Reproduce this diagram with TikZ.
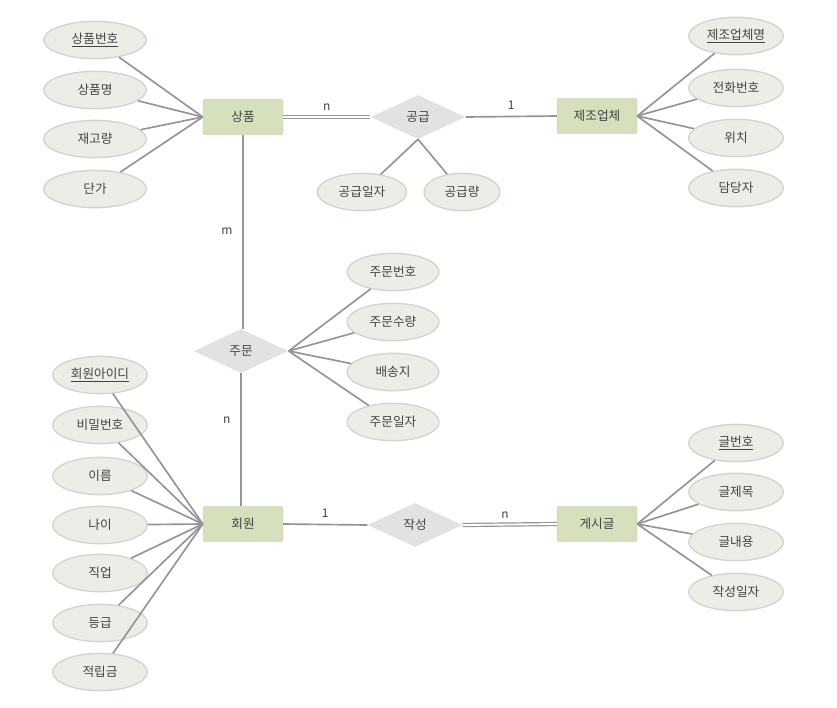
\documentclass[tikz,border=0pt]{standalone}
\usepackage{fontspec}
\setmainfont{Noto Sans CJK KR}
\usetikzlibrary{shapes.geometric}
\definecolor{attrfill}{HTML}{ECEDE6}
\definecolor{attrline}{HTML}{D3D5CC}
\definecolor{entfill}{HTML}{D6E0BC}
\definecolor{relfill}{HTML}{E2E2E2}
\definecolor{link}{HTML}{959595}
\definecolor{txt}{HTML}{444444}
\tikzset{
  lbl/.style={text=txt, font=\fontsize{9.5}{11}\selectfont},
  attr/.style={lbl, ellipse, fill=attrfill, draw=attrline, line width=1pt,
    minimum width=#1, minimum height=28pt, inner sep=0pt},
  attr/.default=71pt,
  entity/.style={lbl, rectangle, fill=entfill, draw=entfill!92!black, line width=0.3pt,
    rounded corners=1pt, minimum width=60pt, minimum height=26pt, inner sep=0pt},
  rel/.style={lbl, diamond, fill=relfill, draw=none, minimum width=71pt,
    minimum height=33pt, inner sep=0pt},
  conn/.style={draw=link, line width=1.25pt},
  dconn/.style={draw=link, line width=0.9pt, double=white, double distance=1.4pt},
  card/.style={lbl, font=\fontsize{9}{10}\selectfont},
}
\begin{document}
\begin{tikzpicture}[x=0.75pt, y=-0.75pt]
  \useasboundingbox[fill=white] (0,0) rectangle (837,707);

  % entities
  \node[entity] (sp) at (243,117) {상품};
  \node[entity] (mf) at (597,116) {제조업체};
  \node[entity] (mb) at (243,524) {회원};
  \node[entity] (bd) at (597,524) {게시글};

  % relationships
  \node[rel] (sup) at (418,117) {공급};
  \node[rel] (ord) at (241,351) {주문};
  \node[rel] (wr)  at (415,525) {작성};

  % attributes of 상품
  \node[attr=77pt] (sp1) at (95,40)  {\underline{상품번호}};
  \node[attr=77pt] (sp2) at (95,90)  {상품명};
  \node[attr=77pt] (sp3) at (95,139) {재고량};
  \node[attr=77pt] (sp4) at (95,189) {단가};
  \foreach \a in {sp1,sp2,sp3,sp4} \draw[conn] (\a) -- (sp.west);

  % attributes of 제조업체
  \node[attr] (mf1) at (736,36)  {\underline{제조업체명}};
  \node[attr] (mf2) at (736,88)  {전화번호};
  \node[attr] (mf3) at (736,138) {위치};
  \node[attr] (mf4) at (736,188) {담당자};
  \foreach \a in {mf1,mf2,mf3,mf4} \draw[conn] (\a) -- (mf.east);

  % attributes of 공급
  \node[attr=67pt] (sup1) at (362,192) {공급일자};
  \node[attr=57pt] (sup2) at (462,192) {공급량};
  \foreach \a in {sup1,sup2} \draw[conn] (\a) -- (sup.south);

  % attributes of 주문
  \node[attr=69pt] (ord1) at (393,272) {주문번호};
  \node[attr=69pt] (ord2) at (393,322) {주문수량};
  \node[attr=69pt] (ord3) at (393,372) {배송지};
  \node[attr=69pt] (ord4) at (393,422) {주문일자};
  \foreach \a in {ord1,ord2,ord3,ord4} \draw[conn] (\a) -- (ord.east);

  % attributes of 회원
  \node[attr] (mb1) at (100,375) {\underline{회원아이디}};
  \node[attr] (mb2) at (100,425) {비밀번호};
  \node[attr] (mb3) at (100,476) {이름};
  \node[attr] (mb4) at (100,525) {나이};
  \node[attr] (mb5) at (100,573) {직업};
  \node[attr] (mb6) at (100,623) {등급};
  \node[attr] (mb7) at (100,672) {적립금};
  \foreach \a in {mb1,mb2,mb3,mb4,mb5,mb6,mb7} \draw[conn] (\a) -- (mb.west);

  % attributes of 게시글
  \node[attr] (bd1) at (736,443) {\underline{글번호}};
  \node[attr] (bd2) at (736,492) {글제목};
  \node[attr] (bd3) at (736,542) {글내용};
  \node[attr] (bd4) at (736,592) {작성일자};
  \foreach \a in {bd1,bd2,bd3,bd4} \draw[conn] (\a) -- (bd.east);

  % relationship links with cardinalities
  \draw[dconn] (sp.east) -- node[card, above=1pt, pos=0.5] (c1) {n} (sup.west);
  \draw[conn] (sup.east) -- node[card, above=1pt, pos=0.5] (c2) {1} (mf.west);
  \draw[conn] (sp.south) -- node[card, left=4pt, pos=0.5] (c3) {m} (sp.south |- ord.north);
  \draw[conn] (ord.south) -- node[card, left=4pt, pos=0.35] (c4) {n} (ord.south |- mb.north);
  \draw[conn] (mb.east) -- node[card, above=1pt, pos=0.5] (c5) {1} (wr.west);
  \draw[dconn] (wr.east) -- node[card, above=1pt, pos=0.45] (c6) {n} (bd.west);
\end{tikzpicture}
\end{document}
